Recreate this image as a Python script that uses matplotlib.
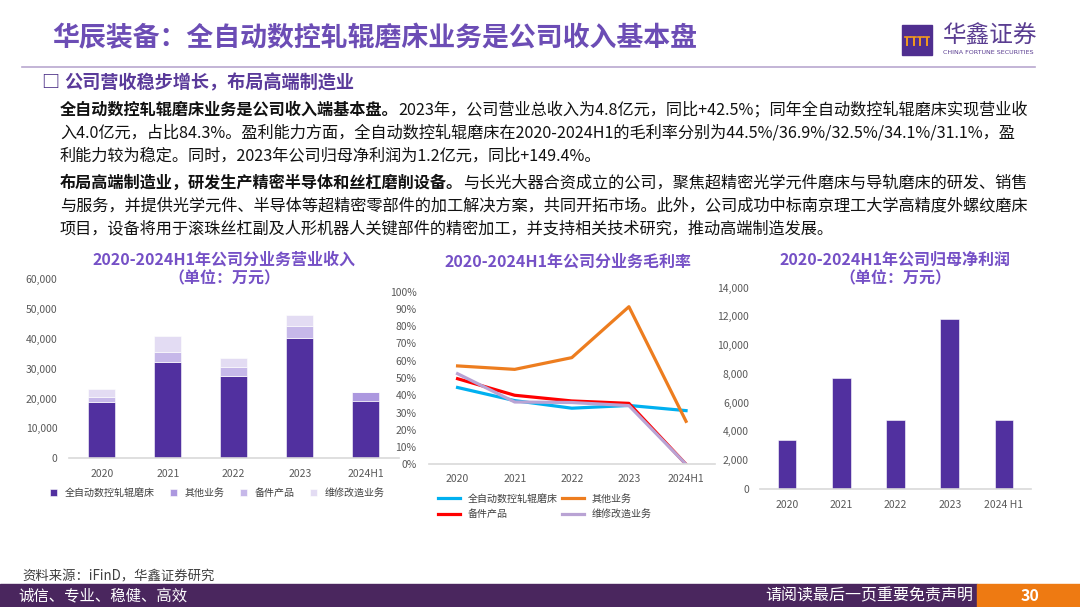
import matplotlib
matplotlib.use('Agg')
import matplotlib.pyplot as plt
from matplotlib.patches import Rectangle
from matplotlib.lines import Line2D
from matplotlib.ticker import FuncFormatter

plt.rcParams['font.family'] = ['Noto Sans CJK SC', 'DejaVu Sans']

# ---- data ----
years = ['2020', '2021', '2022', '2023', '2024H1']
years_np = ['2020', '2021', '2022', '2023', '2024 H1']

rev_labels = ['全自动数控轧辊磨床', '其他业务', '备件产品', '维修改造业务']
rev_main = [18900, 32200, 27500, 40300, 19300]
rev_other = [0, 0, 0, 0, 3000]
rev_parts = [1650, 3350, 3100, 4150, 0]
rev_repair = [2550, 5450, 3000, 3550, 0]

gm_main = [44.5, 36.9, 32.5, 34.1, 31.1]
gm_other = [57.0, 55.0, 61.8, 91.3, 24.9]
gm_parts = [49.6, 40.0, 36.7, 35.3, 0.0]
gm_repair = [52.5, 36.1, 35.8, 34.0, 0.0]

net_profit = [3370, 7690, 4760, 11840, 4810]

W, H = 1080, 607
PURPLE = '#51309F'
TITLE_C = '#6C4DB5'
CHART_T = '#7550C6'
TICK_C = '#595959'
AXIS_C = '#D9D9D9'


def fx(x):
    return x / W


def fy(y):
    return 1 - y / H


def rich_line(fig, x, y, parts, size):
    r = fig.canvas.get_renderer()
    for s, w in parts:
        t = fig.text(fx(x), fy(y), s, fontsize=size, fontweight=w,
                     va='center', ha='left', color='#111111')
        x += t.get_window_extent(renderer=r).width


def style_axes(ax):
    for s in ['top', 'right', 'left']:
        ax.spines[s].set_visible(False)
    ax.spines['bottom'].set_color(AXIS_C)
    ax.spines['bottom'].set_linewidth(1.2)
    ax.tick_params(length=0, labelsize=7.5, labelcolor=TICK_C)


fig = plt.figure(figsize=(10.8, 6.07), dpi=100)

# ---- header ----
fig.text(fx(52), fy(38), '华辰装备：全自动数控轧辊磨床业务是公司收入基本盘',
         fontsize=19.4, fontweight='bold', color=TITLE_C, va='center', ha='left')
fig.add_artist(Line2D([fx(22), fx(1035)], [fy(66.5), fy(66.5)], color='#B9A8CF', lw=1.2))

# logo
fig.add_artist(Rectangle((fx(902), fy(55)), 30 / W, 30 / H, color='#4F2E8F'))
for i in range(4):
    cx = 907 + i * 6.5
    fig.add_artist(Line2D([fx(cx), fx(cx)], [fy(45), fy(38)], color='#F29A1C', lw=1.4))
    fig.add_artist(Line2D([fx(cx - 2.5), fx(cx + 2.5)], [fy(37), fy(37)], color='#F29A1C', lw=1.2))
fig.text(fx(943), fy(36), '华鑫证券', fontsize=17, color='#5A3D91', va='center', ha='left')
fig.text(fx(943), fy(52.5), 'CHINA FORTUNE SECURITIES', fontsize=4.6, color='#5A3D91',
         va='center', ha='left', family='DejaVu Sans')

# subtitle
fig.text(fx(41), fy(83), '□', fontsize=13, fontweight='bold', color='#4B2E86', va='center', ha='left')
fig.text(fx(64), fy(83), '公司营收稳步增长，布局高端制造业', fontsize=13.1, fontweight='bold',
         color='#5A3A9A', va='center', ha='left')

# body
bs = 11.65
rich_line(fig, 60, 110, [('全自动数控轧辊磨床业务是公司收入端基本盘。', 'bold'),
                         ('2023年，公司营业总收入为4.8亿元，同比+42.5%；同年全自动数控轧辊磨床实现营业收', 'normal')], bs)
rich_line(fig, 60, 133, [('入4.0亿元，占比84.3%。盈利能力方面，全自动数控轧辊磨床在2020-2024H1的毛利率分别为44.5%/36.9%/32.5%/34.1%/31.1%，盈', 'normal')], bs)
rich_line(fig, 60, 156, [('利能力较为稳定。同时，2023年公司归母净利润为1.2亿元，同比+149.4%。', 'normal')], bs)
rich_line(fig, 60, 183, [('布局高端制造业，研发生产精密半导体和丝杠磨削设备。', 'bold'),
                         ('与长光大器合资成立的公司，聚焦超精密光学元件磨床与导轨磨床的研发、销售', 'normal')], bs)
rich_line(fig, 60, 206, [('与服务，并提供光学元件、半导体等超精密零部件的加工解决方案，共同开拓市场。此外，公司成功中标南京理工大学高精度外螺纹磨床', 'normal')], bs)
rich_line(fig, 60, 229, [('项目，设备将用于滚珠丝杠副及人形机器人关键部件的精密加工，并支持相关技术研究，推动高端制造发展。', 'normal')], bs)

# ---- left chart: revenue by segment ----
fig.text(fx(224), fy(260), '2020-2024H1年公司分业务营业收入', fontsize=11.5, fontweight='bold',
         color=CHART_T, va='center', ha='center')
fig.text(fx(224), fy(278), '（单位：万元）', fontsize=11.5, fontweight='bold',
         color=CHART_T, va='center', ha='center')

ax1 = fig.add_axes([fx(68.7), fy(458.3), 330 / W, 179 / H])
x = range(len(years))
seg_colors = [PURPLE, '#AC98DF', '#C6B8E9', '#E3DCF3']
bottom = [0] * len(years)
for vals, col, lab in zip([rev_main, rev_other, rev_parts, rev_repair], seg_colors, rev_labels):
    ax1.bar(x, vals, bottom=bottom, width=0.41, color=col, label=lab,
            edgecolor='white', linewidth=0.4)
    bottom = [b + v for b, v in zip(bottom, vals)]
ax1.set_xlim(-0.5, 4.5)
ax1.set_ylim(0, 60000)
ax1.set_yticks(range(0, 60001, 10000))
ax1.yaxis.set_major_formatter(FuncFormatter(lambda v, p: f'{v:,.0f}'))
ax1.set_xticks(list(x))
ax1.set_xticklabels(years)
style_axes(ax1)
ax1.tick_params(axis='y', pad=8)
ax1.tick_params(axis='x', pad=8)
ax1.legend(loc='center', bbox_to_anchor=(fx(217), fy(493)), bbox_transform=fig.transFigure,
           ncol=4, frameon=False, fontsize=7.2, handlelength=0.7, handleheight=0.7,
           columnspacing=1.5, handletextpad=0.8, labelcolor='#404040')

# ---- middle chart: gross margin ----
fig.text(fx(568), fy(262), '2020-2024H1年公司分业务毛利率', fontsize=11.5, fontweight='bold',
         color=CHART_T, va='center', ha='center')
ax2 = fig.add_axes([fx(429), fy(464.3), 285.6 / W, 172.6 / H])
l_main, = ax2.plot(x, gm_main, color='#00B0F0', lw=2.3, label='全自动数控轧辊磨床')
l_other, = ax2.plot(x, gm_other, color='#ED7D1F', lw=2.3, label='其他业务')
l_parts, = ax2.plot(x, gm_parts, color='#FF0000', lw=2.3, label='备件产品')
l_rep, = ax2.plot(x, gm_repair, color='#B9A3D4', lw=2.3, label='维修改造业务')
ax2.set_xlim(-0.5, 4.5)
ax2.set_ylim(0, 100)
ax2.set_yticks(range(0, 101, 10))
ax2.yaxis.set_major_formatter(FuncFormatter(lambda v, p: f'{v:.0f}%'))
ax2.set_xticks(list(x))
ax2.set_xticklabels(years)
style_axes(ax2)
ax2.tick_params(axis='y', pad=9)
ax2.tick_params(axis='x', pad=7)
ax2.legend(handles=[l_main, l_parts, l_other, l_rep], loc='center',
           bbox_to_anchor=(fx(545), fy(506.5)), bbox_transform=fig.transFigure,
           ncol=2, frameon=False, fontsize=7.2, handlelength=2.2,
           columnspacing=0.4, handletextpad=0.8, labelspacing=0.55, labelcolor='#404040')

# ---- right chart: net profit ----
fig.text(fx(895), fy(260), '2020-2024H1年公司归母净利润', fontsize=11.5, fontweight='bold',
         color=CHART_T, va='center', ha='center')
fig.text(fx(895), fy(278), '（单位：万元）', fontsize=11.5, fontweight='bold',
         color=CHART_T, va='center', ha='center')
ax3 = fig.add_axes([fx(760), fy(488.7), 271 / W, 201 / H])
ax3.bar(x, net_profit, width=0.34, color=PURPLE, edgecolor='white', linewidth=0.4)
ax3.set_xlim(-0.5, 4.5)
ax3.set_ylim(0, 14000)
ax3.set_yticks(range(0, 14001, 2000))
ax3.yaxis.set_major_formatter(FuncFormatter(lambda v, p: f'{v:,.0f}'))
ax3.set_xticks(list(x))
ax3.set_xticklabels(years_np)
style_axes(ax3)
ax3.tick_params(axis='y', pad=8)
ax3.tick_params(axis='x', pad=8)

# ---- footer ----
fig.text(fx(22), fy(576), '资料来源：iFinD，华鑫证券研究', fontsize=9.6, color='#404040',
         va='center', ha='left')
fig.add_artist(Rectangle((0, 0), fx(977), 23 / H, color='#4A265E'))
fig.add_artist(Rectangle((fx(977), 0), 1 - fx(977), 23 / H, color='#EE7A12'))
fig.text(fx(18), fy(596), '诚信、专业、稳健、高效', fontsize=11.1, color='white', va='center', ha='left')
fig.text(fx(973), fy(596), '请阅读最后一页重要免责声明', fontsize=11.5, color='white', va='center', ha='right')
fig.text(fx(1030), fy(596), '30', fontsize=11.5, fontweight='bold', color='white', va='center', ha='center')

fig.savefig('out.png', dpi=100)
